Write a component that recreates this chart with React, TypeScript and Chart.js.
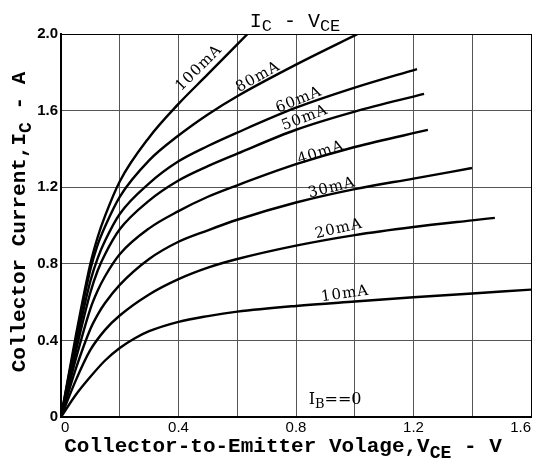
import React, { useEffect, useRef } from 'react';
import { Chart, registerables } from 'chart.js';

Chart.register(...registerables);

// ---- Data ----
const seriesNames = ['100mA', '80mA', '60mA', '50mA', '40mA', '30mA', '20mA', '10mA'];

const vce100 = [0, 0.05, 0.1, 0.125, 0.15, 0.2, 0.3, 0.4, 0.5, 0.635];
const ic100 = [0, 0.42, 0.8, 0.94, 1.05, 1.23, 1.46, 1.635, 1.79, 2.0];

const vce80 = [0, 0.05, 0.1, 0.125, 0.15, 0.2, 0.3, 0.4, 0.5, 0.6, 0.8, 1.01];
const ic80 = [0, 0.4, 0.77, 0.9, 0.995, 1.15, 1.34, 1.47, 1.58, 1.675, 1.84, 2.0];

const vce60 = [0, 0.05, 0.1, 0.125, 0.15, 0.2, 0.3, 0.4, 0.5, 0.6, 0.8, 1.0, 1.212];
const ic60 = [0, 0.37, 0.71, 0.83, 0.92, 1.06, 1.22, 1.335, 1.415, 1.485, 1.615, 1.72, 1.817];

const vce50 = [0, 0.05, 0.1, 0.125, 0.15, 0.2, 0.3, 0.4, 0.5, 0.6, 0.8, 1.0, 1.236];
const ic50 = [0, 0.34, 0.65, 0.765, 0.85, 0.98, 1.13, 1.235, 1.31, 1.375, 1.5, 1.595, 1.687];

const vce40 = [0, 0.05, 0.1, 0.125, 0.15, 0.2, 0.3, 0.4, 0.5, 0.6, 0.8, 1.0, 1.249];
const ic40 = [0, 0.3, 0.565, 0.66, 0.735, 0.85, 0.985, 1.075, 1.15, 1.21, 1.32, 1.41, 1.499];

const vce30 = [0, 0.05, 0.1, 0.125, 0.15, 0.2, 0.3, 0.4, 0.5, 0.6, 0.8, 1.0, 1.2, 1.399];
const ic30 = [0, 0.25, 0.46, 0.535, 0.595, 0.69, 0.825, 0.915, 0.975, 1.03, 1.12, 1.19, 1.245, 1.3];

const vce20 = [0, 0.05, 0.1, 0.15, 0.2, 0.3, 0.4, 0.5, 0.6, 0.8, 1.0, 1.2, 1.4, 1.477];
const ic20 = [0, 0.19, 0.35, 0.455, 0.53, 0.64, 0.72, 0.78, 0.825, 0.895, 0.95, 0.992, 1.027, 1.04];

const vce10 = [0, 0.05, 0.1, 0.15, 0.2, 0.25, 0.3, 0.4, 0.5, 0.6, 0.8, 1.0, 1.2, 1.4, 1.6];
const ic10 = [0, 0.115, 0.21, 0.295, 0.36, 0.41, 0.448, 0.497, 0.527, 0.55, 0.58, 0.603, 0.625, 0.645, 0.665];

const vceSeries = [vce100, vce80, vce60, vce50, vce40, vce30, vce20, vce10];
const icSeries = [ic100, ic80, ic60, ic50, ic40, ic30, ic20, ic10];

// curve label anchors (data units) and rotation
const labelVce = [0.47, 0.671, 0.81, 0.83, 0.885, 0.922, 0.946, 0.967];
const labelIc = [1.822, 1.775, 1.655, 1.561, 1.379, 1.196, 0.982, 0.642];
const labelAngle = [-45, -29, -22, -21, -18, -14, -13, -8];

const xTickStep = 0.2;
const yTickStep = 0.4;

const MONO = '"Liberation Mono", "DejaVu Sans Mono", monospace';
const SERIF = '"DejaVu Serif", "Liberation Serif", serif';

type Seg = { t: string; sub?: boolean };

function drawRich(ctx: CanvasRenderingContext2D, segs: Seg[], cx: number, baseY: number, size: number, weight: string, subScale: number, subDrop: number) {
  const mainFont = `${weight} ${size}px ${MONO}`;
  const subFont = `${weight} ${Math.round(size * subScale)}px ${MONO}`;
  let total = 0;
  const widths = segs.map((s) => {
    ctx.font = s.sub ? subFont : mainFont;
    const w = ctx.measureText(s.t).width;
    total += w;
    return w;
  });
  let x = cx - total / 2;
  ctx.textAlign = 'left';
  ctx.textBaseline = 'alphabetic';
  segs.forEach((s, i) => {
    ctx.font = s.sub ? subFont : mainFont;
    ctx.fillText(s.t, x, baseY + (s.sub ? subDrop : 0));
    x += widths[i];
  });
}

const textPlugin = {
  id: 'textPlugin',
  afterDatasetsDraw(chart: any) {
    const { ctx, scales } = chart;
    const xs = scales.x;
    const ys = scales.y;
    ctx.save();
    ctx.fillStyle = '#000';
    ctx.font = `15px ${SERIF}`;
    (ctx as any).letterSpacing = '1px';
    ctx.textAlign = 'center';
    ctx.textBaseline = 'middle';
    seriesNames.forEach((name, i) => {
      const px = xs.getPixelForValue(labelVce[i]);
      const py = ys.getPixelForValue(labelIc[i]);
      ctx.save();
      ctx.translate(px, py);
      ctx.rotate((labelAngle[i] * Math.PI) / 180);
      ctx.fillText(name, 0, 0);
      ctx.restore();
    });
    (ctx as any).letterSpacing = '0px';
    // I_B = 0 note
    {
      const px = xs.getPixelForValue(0.933);
      const py = ys.getPixelForValue(0.099);
      ctx.font = `16px ${SERIF}`;
      const w1 = ctx.measureText('I').width;
      ctx.font = `13px ${SERIF}`;
      const w2 = ctx.measureText('B').width;
      ctx.font = `16px ${SERIF}`;
      const w3 = ctx.measureText('==0').width;
      let x = px - (w1 + w2 + w3) / 2;
      ctx.textAlign = 'left';
      ctx.textBaseline = 'alphabetic';
      ctx.fillText('I', x, py + 6);
      x += w1;
      ctx.font = `13px ${SERIF}`;
      ctx.fillText('B', x, py + 10);
      x += w2;
      ctx.font = `16px ${SERIF}`;
      ctx.fillText('==0', x, py + 6);
    }
    ctx.restore();
  },
  afterDraw(chart: any) {
    const { ctx } = chart;
    ctx.save();
    ctx.fillStyle = '#000';
    // title
    drawRich(ctx, [{ t: 'I' }, { t: 'C', sub: true }, { t: ' - V' }, { t: 'CE', sub: true }], 295, 27, 20, 'normal', 0.85, 4);
    // x axis title
    drawRich(ctx, [{ t: 'Collector-to-Emitter Volage,V' }, { t: 'CE', sub: true }, { t: ' - V' }], 283, 452, 21, 'bold', 0.85, 6);
    // y axis title
    ctx.save();
    ctx.translate(25, 222);
    ctx.rotate(-Math.PI / 2);
    drawRich(ctx, [{ t: 'Collector Current,I' }, { t: 'C', sub: true }, { t: ' - A' }], 0, 0, 21, 'bold', 0.85, 6);
    ctx.restore();
    ctx.restore();
  },
};

export default function App() {
  const canvasRef = useRef<HTMLCanvasElement | null>(null);

  useEffect(() => {
    if (!canvasRef.current) return;
    const datasets = seriesNames.map((name, i) => ({
      label: name,
      data: vceSeries[i].map((v, j) => ({ x: v, y: icSeries[i][j] })),
      borderColor: '#000',
      borderWidth: 2.4,
      pointRadius: 0,
      fill: false,
      cubicInterpolationMode: 'monotone' as const,
    }));
    const chart = new Chart(canvasRef.current, {
      type: 'line',
      data: { datasets },
      plugins: [textPlugin],
      options: {
        responsive: false,
        animation: false,
        layout: { padding: { top: 34, right: 3, left: 0, bottom: 0 } },
        plugins: { legend: { display: false }, tooltip: { enabled: false }, title: { display: false } },
        scales: {
          x: {
            type: 'linear',
            min: 0,
            max: 1.6,
            ticks: {
              stepSize: xTickStep,
              autoSkip: false,
              align: 'inner',
              maxRotation: 0,
              color: '#000',
              padding: 2,
              font: { family: '"Liberation Sans", sans-serif', size: 15 },
              callback: (v: any) => {
                const n = Math.round(Number(v) * 10);
                if (n % 4 !== 0) return '';
                return n === 0 ? '0' : (n / 10).toFixed(1);
              },
            },
            grid: {
              drawTicks: false,
              lineWidth: 1,
              color: (c: any) => (c.tick && Math.abs(c.tick.value - 1.6) < 1e-6 ? '#000' : '#555'),
            },
            border: { color: '#000', width: 2 },
            afterFit: (s: any) => {
              s.height = 49;
              s.paddingLeft = 0;
              s.paddingRight = 0;
            },
          },
          y: {
            type: 'linear',
            min: 0,
            max: 2.0,
            ticks: {
              stepSize: yTickStep,
              color: '#000',
              padding: 3,
              font: { family: '"Liberation Sans", sans-serif', size: 15, weight: 'bold' },
              callback: (v: any) => {
                const n = Math.round(Number(v) * 10);
                return n === 0 ? '0' : (n / 10).toFixed(1);
              },
            },
            grid: {
              drawTicks: false,
              lineWidth: 1,
              color: (c: any) => (c.tick && Math.abs(c.tick.value - 2.0) < 1e-6 ? '#000' : '#555'),
            },
            border: { color: '#000', width: 2 },
            afterFit: (s: any) => {
              s.width = 61;
              s.paddingTop = 0;
              s.paddingBottom = 0;
            },
          },
        },
      },
    });
    return () => chart.destroy();
  }, []);

  return (
    <div style={{ position: 'fixed', left: 0, top: 0, width: 534, height: 466, background: '#fff' }}>
      <canvas ref={canvasRef} width={534} height={466} style={{ display: 'block' }} />
    </div>
  );
}
